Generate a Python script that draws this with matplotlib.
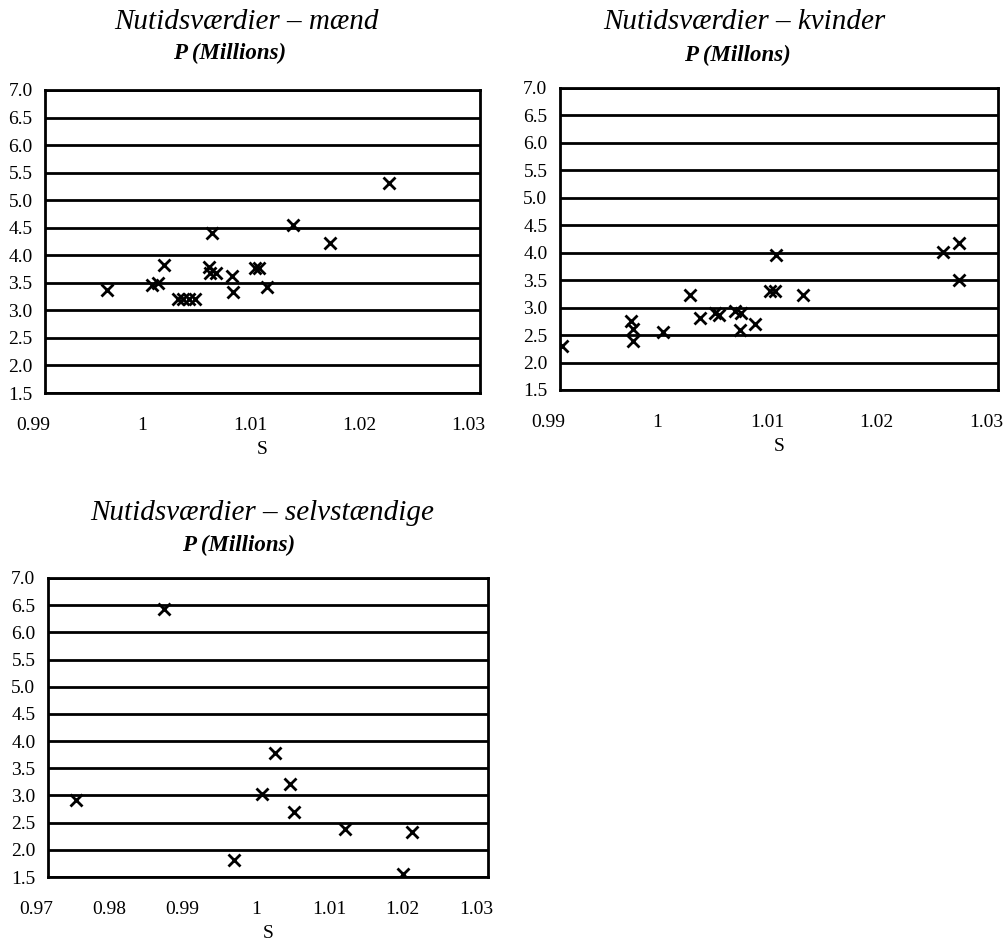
import matplotlib.pyplot as plt
from matplotlib.transforms import ScaledTranslation

men_s = [0.9957, 0.9998, 1.0004, 1.0009, 1.0022, 1.0027, 1.0032, 1.0038, 1.0054, 1.0051,
         1.0052, 1.0057, 1.0072, 1.0073, 1.0093, 1.0097, 1.0104, 1.0128, 1.0162, 1.0216]
men_p = [3.37, 3.46, 3.50, 3.82, 3.21, 3.21, 3.21, 3.21, 4.40, 3.79,
         3.68, 3.68, 3.62, 3.33, 3.77, 3.77, 3.42, 4.55, 4.22, 5.31]

women_s = [0.9902, 0.9965, 0.9967, 0.9967, 0.9994, 1.0019, 1.0028, 1.0042, 1.0045, 1.0060,
           1.0065, 1.0064, 1.0078, 1.0092, 1.0096, 1.0097, 1.0122, 1.0250, 1.0264, 1.0264]
women_p = [2.30, 2.76, 2.62, 2.40, 2.55, 3.23, 2.81, 2.90, 2.87, 2.93,
           2.91, 2.59, 2.70, 3.31, 3.31, 3.96, 3.23, 4.01, 4.17, 3.50]

self_s = [0.9738, 0.9858, 0.9954, 0.9992, 1.0009, 1.0030, 1.0035, 1.0105, 1.0184, 1.0196]
self_p = [2.91, 6.43, 1.82, 3.02, 3.79, 3.21, 2.69, 2.39, 1.56, 2.32]

y_ticks = [1.5, 2.0, 2.5, 3.0, 3.5, 4.0, 4.5, 5.0, 5.5, 6.0, 6.5, 7.0]
x_ticks_a = [0.99, 1.00, 1.01, 1.02, 1.03]
x_labels_a = ['0.99', '1', '1.01', '1.02', '1.03']
x_ticks_b = [0.97, 0.98, 0.99, 1.00, 1.01, 1.02, 1.03]
x_labels_b = ['0.97', '0.98', '0.99', '1', '1.01', '1.02', '1.03']

plt.rcParams['font.family'] = ['Liberation Serif', 'DejaVu Serif']

W, H = 1006, 940
fig = plt.figure(figsize=(W / 100, H / 100), dpi=100)
shift = ScaledTranslation(-0.12, 0, fig.dpi_scale_trans)


def panel(rect, xs, ys, xticks, xlabels, title, sub, title_xy, sub_xy):
    l, t, r, b = rect
    ax = fig.add_axes([l / W, 1 - b / H, (r - l) / W, (b - t) / H])
    for y in y_ticks:
        ax.axhline(y, color='black', lw=2.0, zorder=1)
    ax.plot(xs, ys, linestyle='none', marker='x', color='black',
            markersize=8.5, markeredgewidth=2.0, zorder=3)
    ax.set_xlim(xticks[0], xticks[-1])
    ax.set_ylim(1.5, 7.0)
    ax.set_yticks(y_ticks)
    ax.set_yticklabels(['%.1f' % v for v in y_ticks])
    ax.set_xticks(xticks)
    ax.set_xticklabels(xlabels)
    ax.tick_params(length=0, labelsize=14)
    ax.tick_params(axis='y', pad=9)
    ax.tick_params(axis='x', pad=17)
    for lab in ax.get_xticklabels():
        lab.set_transform(lab.get_transform() + shift)
    for s in ax.spines.values():
        s.set_linewidth(2.0)
    ax.set_xlabel('S', fontsize=14, labelpad=5)
    fig.text(title_xy[0] / W, 1 - title_xy[1] / H, title, fontsize=21,
             style='italic', ha='center', va='center')
    fig.text(sub_xy[0] / W, 1 - sub_xy[1] / H, sub, fontsize=16.5,
             style='italic', fontweight='bold', ha='center', va='center')
    return ax


panel((45, 90, 480, 393), men_s, men_p, x_ticks_a, x_labels_a,
      'Nutidsværdier – mænd', 'P (Millions)', (246, 22), (230, 53))
panel((560, 88, 998, 390), women_s, women_p, x_ticks_a, x_labels_a,
      'Nutidsværdier – kvinder', 'P (Millons)', (744, 22), (737, 55))
panel((48, 578, 488, 877), self_s, self_p, x_ticks_b, x_labels_b,
      'Nutidsværdier – selvstændige', 'P (Millions)', (262, 513), (239, 545))

fig.savefig('out.png', dpi=100)
